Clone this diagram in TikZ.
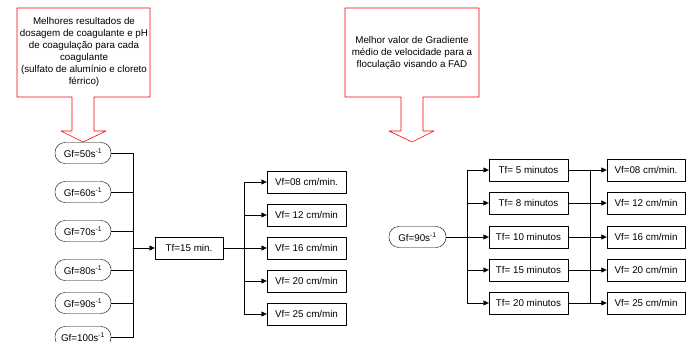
\documentclass[tikz,border=0pt]{standalone}
\usepackage{fontspec}
\setmainfont{Liberation Sans}
\usetikzlibrary{arrows.meta}

\tikzset{gfnode/.style={draw,rounded corners=10pt,minimum width=56pt,minimum height=21pt,inner sep=0pt},
  tfbox/.style={draw,minimum width=79pt,minimum height=22pt,inner sep=0pt},
  callout/.style={draw=red,line width=0.6pt}}

\begin{document}
\begin{tikzpicture}[line cap=round,line join=round,>={Triangle[length=5.5pt,width=5pt]},x=1pt,y=-1pt,font=\fontsize{9.8}{12}\selectfont]
\useasboundingbox (0,0) rectangle (691,342);
% callouts
\draw[callout] (17,8) -- (150,8) -- (150,97) -- (94,97) -- (94,131) -- (106,131) -- (83,142) -- (61,131) -- (72,131) -- (72,97) -- (17,97) -- cycle;
\draw[callout] (345,8) -- (479,8) -- (479,97) -- (423,97) -- (423,131) -- (434,131) -- (412,142) -- (389,131) -- (401,131) -- (401,97) -- (345,97) -- cycle;
\node[align=center] (melhores) at (84,52) {Melhores resultados de\\dosagem de coagulante e pH\\de coagulação para cada\\coagulante\\(sulfato de alumínio e cloreto\\férrico)};
\node[align=center] (gradiente) at (412,53) {Melhor valor de Gradiente\\médio de velocidade para a\\floculação visando a FAD};
% left part
\node[gfnode] (g50) at (83,153) {Gf=50s\textsuperscript{-1}};
\node[gfnode] (g60) at (83,192) {Gf=60s\textsuperscript{-1}};
\node[gfnode] (g70) at (83,231) {Gf=70s\textsuperscript{-1}};
\node[gfnode] (g80) at (83,270) {Gf=80s\textsuperscript{-1}};
\node[gfnode] (g90) at (83,303) {Gf=90s\textsuperscript{-1}};
\node[gfnode] (g100) at (83,337) {Gf=100s\textsuperscript{-1}};
\coordinate (busa) at (133,248);
\foreach \g in {g50,g60,g70,g80,g90,g100}
  \draw (\g.east) -| (busa);
\node[tfbox,minimum width=68pt] (tf15) at (189,248) {Tf=15 min.};
\draw[->] (busa) -- (tf15);
\coordinate (busb) at (244,248);
\draw (tf15) -- (busb);
\node[tfbox] (va) at (306.5,182) {Vf=08 cm/min.};
\node[tfbox] (vb) at (306.5,215) {Vf= 12 cm/min};
\node[tfbox] (vc) at (306.5,248) {Vf= 16 cm/min};
\node[tfbox] (vd) at (306.5,281) {Vf= 20 cm/min};
\node[tfbox] (ve) at (306.5,314) {Vf= 25 cm/min};
\foreach \v in {va,vb,vc,vd,ve}
  \draw[->] (busb) |- (\v);
% right part
\node[gfnode,minimum width=57pt] (gnov) at (417.5,237) {Gf=90s\textsuperscript{-1}};
\coordinate (busc) at (467,237);
\draw[thick] (gnov) -- (busc);
\node[tfbox] (ta) at (528.5,170) {Tf= 5 minutos};
\node[tfbox] (tb) at (528.5,203) {Tf= 8 minutos};
\node[tfbox] (tc) at (528.5,237) {Tf= 10 minutos};
\node[tfbox] (td) at (528.5,270) {Tf= 15 minutos};
\node[tfbox] (te) at (528.5,303) {Tf= 20 minutos};
\foreach \t in {ta,tb,tc,td,te}
  \draw[->] (busc) |- (\t);
\node[tfbox,minimum width=78pt] (wa) at (646,170) {Vf=08 cm/min.};
\node[tfbox,minimum width=78pt] (wb) at (646,203) {Vf= 12 cm/min};
\node[tfbox,minimum width=78pt] (wc) at (646,237) {Vf= 16 cm/min};
\node[tfbox,minimum width=78pt] (wd) at (646,270) {Vf= 20 cm/min};
\node[tfbox,minimum width=78pt] (we) at (646,303) {Vf= 25 cm/min};
\coordinate (busd) at (590,237);
\draw[thick] (busd |- ta) -- (busd |- te);
\foreach \t in {ta,tb,tc,td,te}
  \draw[thick] (\t) -- (busd |- \t);
\foreach \w in {wa,wb,wc,wd,we}
  \draw[thick,->] (busd |- \w) -- (\w);
\end{tikzpicture}
\end{document}
